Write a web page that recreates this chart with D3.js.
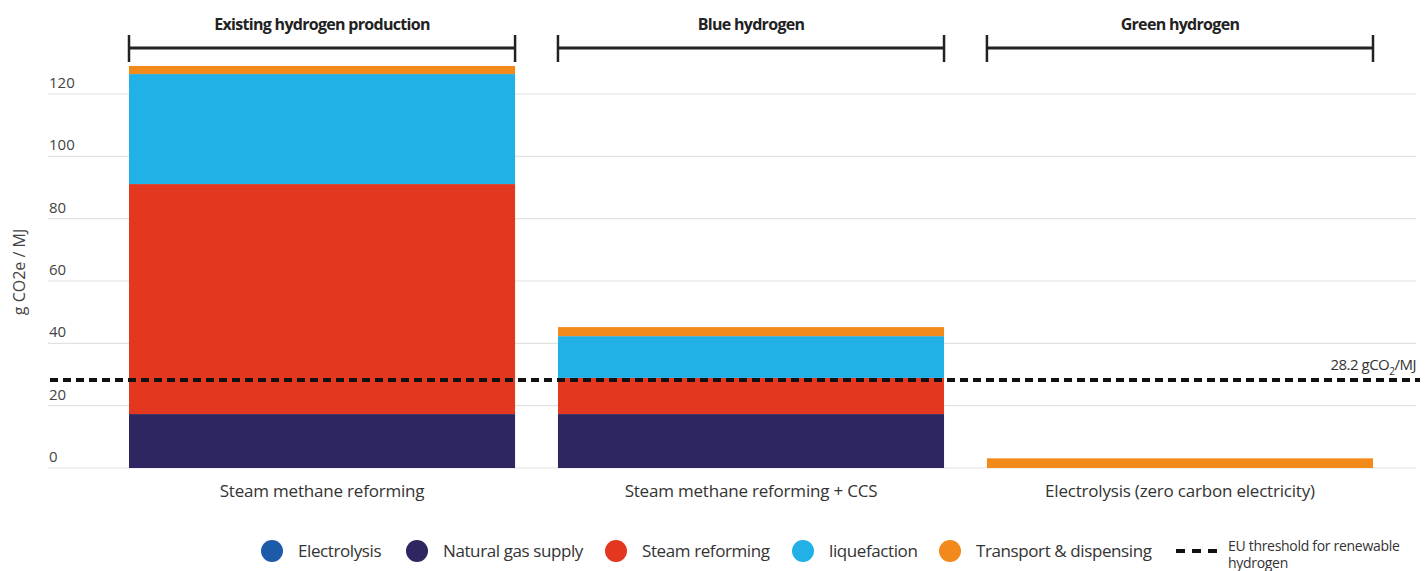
<!DOCTYPE html>
<html>
<head>
<meta charset="utf-8">
<script src="https://cdn.jsdelivr.net/npm/d3@7"></script>
<style>
  html, body { margin: 0; padding: 0; background: #fff; }
  svg { display: block; font-family: "Open Sans", "Noto Sans", sans-serif; }
</style>
</head>
<body>
<svg id="chart" width="1426" height="571"></svg>
<script>
// Production routes on the x axis and the group each one belongs to
const categories = ["Steam methane reforming", "Steam methane reforming + CCS", "Electrolysis (zero carbon electricity)"];
const groups = ["Existing hydrogen production", "Blue hydrogen", "Green hydrogen"];

// Emission components, g CO2e / MJ, one value per route
const seriesNames = ["Electrolysis", "Natural gas supply", "Steam reforming", "liquefaction", "Transport & dispensing"];
const electrolysis = [0, 0, 0];
const naturalGasSupply = [17.3, 17.3, 0];
const steamReforming = [73.8, 11.6, 0];
const liquefaction = [35.3, 13.4, 0];
const transportDispensing = [2.6, 2.9, 3.1];

const yTicks = [0, 20, 40, 60, 80, 100, 120];
const threshold = 28.2;
const thresholdLabel = "28.2 gCO";
const yTitle = "g CO2e / MJ";
const thresholdLegend = ["EU threshold for renewable", "hydrogen"];

const colors = {
  "Electrolysis": "#1b5ba8",
  "Natural gas supply": "#2d2661",
  "Steam reforming": "#e43720",
  "liquefaction": "#21b1e7",
  "Transport & dispensing": "#f18a1b"
};

const seriesValues = [electrolysis, naturalGasSupply, steamReforming, liquefaction, transportDispensing];
const rows = categories.map((c, i) => {
  const r = { category: c };
  seriesNames.forEach((s, k) => { r[s] = seriesValues[k][i]; });
  return r;
});

const svg = d3.select("#chart");

const x = d3.scaleBand().domain(categories).range([129, 1373]).paddingInner(0.1).paddingOuter(0);
const y = d3.scaleLinear().domain([0, 120]).range([468, 94]);

// Horizontal gridlines with labels sitting just above each line
const grid = svg.append("g");
grid.selectAll("line").data(yTicks).join("line")
  .attr("x1", 48).attr("x2", 1416)
  .attr("y1", d => y(d)).attr("y2", d => y(d))
  .attr("stroke", "#e2e2e2").attr("stroke-width", 1.2);
grid.selectAll("text").data(yTicks).join("text")
  .attr("x", 49).attr("y", d => y(d) - 6)
  .attr("font-size", 15).attr("fill", "#444")
  .text(d => d);

svg.append("text")
  .attr("transform", "translate(25,272) rotate(-90)")
  .attr("text-anchor", "middle").attr("font-size", 16).attr("fill", "#444")
  .text(yTitle);

// Stacked bars
const stack = d3.stack().keys(seriesNames)(rows);
svg.append("g").selectAll("g").data(stack).join("g")
  .attr("fill", d => colors[d.key])
  .selectAll("rect").data(d => d).join("rect")
  .attr("x", d => x(d.data.category))
  .attr("width", x.bandwidth())
  .attr("y", d => y(d[1]))
  .attr("height", d => Math.max(0, y(d[0]) - y(d[1])));

// Category labels under the bars
svg.append("g").selectAll("text").data(categories).join("text")
  .attr("x", d => x(d) + x.bandwidth() / 2).attr("y", 497)
  .attr("text-anchor", "middle").attr("font-size", 17).attr("fill", "#333")
  .attr("letter-spacing", -0.2)
  .text(d => d);

// Group brackets above the bars
const br = svg.append("g").selectAll("g").data(categories).join("g");
br.append("line")
  .attr("x1", d => x(d)).attr("x2", d => x(d) + x.bandwidth())
  .attr("y1", 48).attr("y2", 48).attr("stroke", "#222").attr("stroke-width", 3);
br.append("line")
  .attr("x1", d => x(d)).attr("x2", d => x(d))
  .attr("y1", 35).attr("y2", 62).attr("stroke", "#222").attr("stroke-width", 2.5);
br.append("line")
  .attr("x1", d => x(d) + x.bandwidth()).attr("x2", d => x(d) + x.bandwidth())
  .attr("y1", 35).attr("y2", 62).attr("stroke", "#222").attr("stroke-width", 2.5);
br.append("text")
  .attr("x", d => x(d) + x.bandwidth() / 2).attr("y", 30)
  .attr("text-anchor", "middle").attr("font-size", 16).attr("font-weight", "bold")
  .attr("letter-spacing", -0.7).attr("fill", "#222")
  .text((d, i) => groups[i]);

// EU threshold line
svg.append("line")
  .attr("x1", 50).attr("x2", 1420)
  .attr("y1", y(threshold)).attr("y2", y(threshold))
  .attr("stroke", "#111").attr("stroke-width", 4).attr("stroke-dasharray", "8,5");
const tl = svg.append("text")
  .attr("x", 1416).attr("y", y(threshold) - 10)
  .attr("text-anchor", "end").attr("font-size", 15).attr("letter-spacing", -0.5).attr("fill", "#333");
tl.append("tspan").text(thresholdLabel);
tl.append("tspan").attr("font-size", 10).attr("dy", 5).text("2");
tl.append("tspan").attr("dy", -5).text("/MJ");

// Legend: swatch centres, label starts 26px to the right
const legendX = [272, 417, 616, 803, 950];
const lg = svg.append("g");
seriesNames.forEach((s, i) => {
  lg.append("circle").attr("cx", legendX[i]).attr("cy", 551).attr("r", 11).attr("fill", colors[s]);
  lg.append("text").attr("x", legendX[i] + 26).attr("y", 557)
    .attr("font-size", 17).attr("fill", "#333").attr("letter-spacing", -0.4).text(s);
});
lg.append("line").attr("x1", 1176).attr("x2", 1218).attr("y1", 551).attr("y2", 551)
  .attr("stroke", "#111").attr("stroke-width", 4).attr("stroke-dasharray", "9,7");
lg.append("text").attr("x", 1228).attr("y", 551)
  .attr("font-size", 14).attr("fill", "#333").attr("letter-spacing", -0.3).text(thresholdLegend[0]);
lg.append("text").attr("x", 1228).attr("y", 568)
  .attr("font-size", 14).attr("fill", "#333").attr("letter-spacing", -0.3).text(thresholdLegend[1]);
</script>
</body>
</html>
